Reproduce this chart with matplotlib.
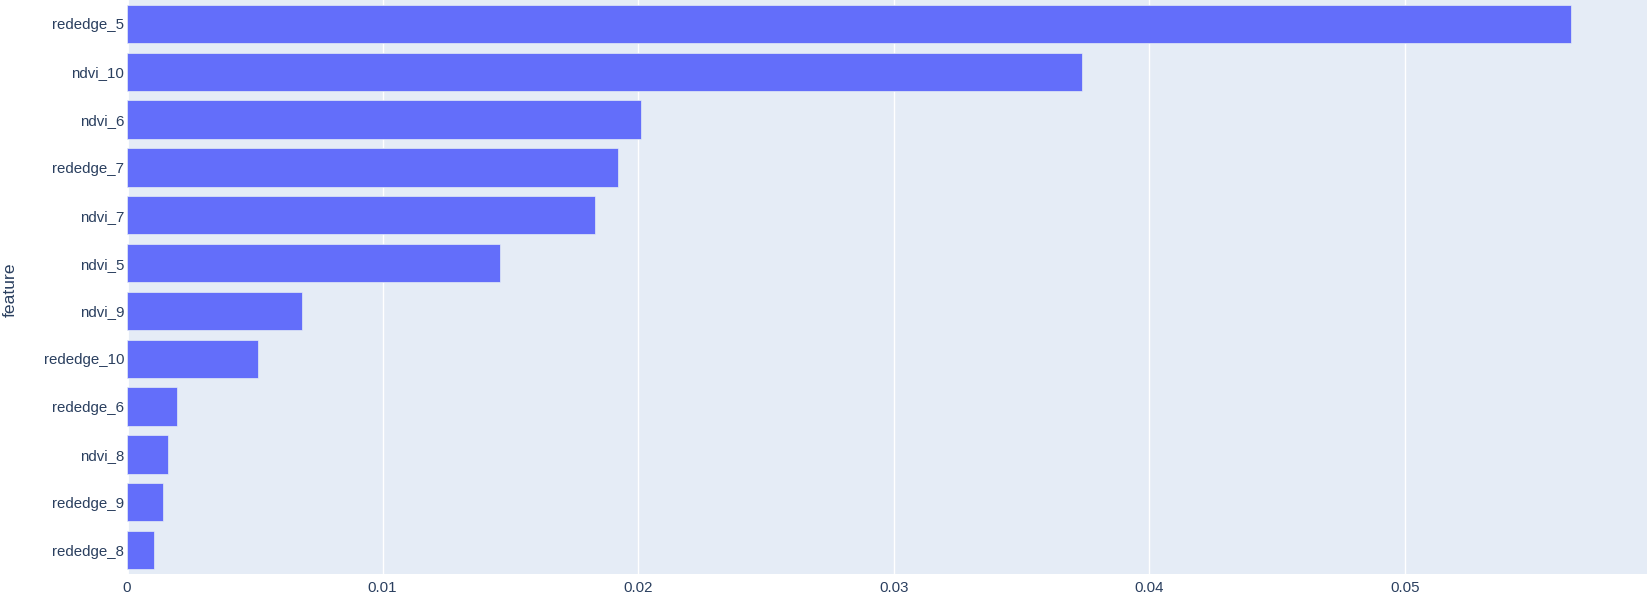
import matplotlib
matplotlib.use("Agg")
import matplotlib.pyplot as plt
import numpy as np

features = ["rededge_5", "ndvi_10", "ndvi_6", "rededge_7", "ndvi_7", "ndvi_5",
            "ndvi_9", "rededge_10", "rededge_6", "ndvi_8", "rededge_9", "rededge_8"]
importance = [0.05651, 0.03736, 0.02011, 0.01921, 0.01830, 0.01459,
              0.00683, 0.00511, 0.00196, 0.00159, 0.00142, 0.00106]
xticks = [0, 0.01, 0.02, 0.03, 0.04, 0.05]
xticklabels = ["0", "0.01", "0.02", "0.03", "0.04", "0.05"]

plt.rcParams['font.family'] = ['Liberation Sans', 'DejaVu Sans']
TXT = "#2a3f5f"
W, H = 1647, 602
fig = plt.figure(figsize=(W / 100, H / 100), dpi=100)
ax = fig.add_axes([127 / W, (H - 574) / H, (W - 127) / W, 574 / H])
ax.set_facecolor("#E5ECF6")
for s in ax.spines.values():
    s.set_visible(False)

y = np.arange(len(features))
ax.barh(y, importance, height=0.8, color="#636EFA", edgecolor="#E5ECF6",
        linewidth=0.5, zorder=3)
ax.set_ylim(len(features) - 0.5, -0.5)
ax.set_xlim(0, 0.05947)
ax.set_yticks(y)
ax.set_yticklabels(features, fontsize=10.8, color=TXT)
ax.set_xticks(xticks)
ax.set_xticklabels(xticklabels, fontsize=10.8, color=TXT)
ax.tick_params(axis="y", length=0, pad=2)
ax.tick_params(axis="x", length=0, pad=5)
ax.grid(axis="x", color="white", linewidth=1, zorder=1)
ax.set_axisbelow(True)
ax.axvline(0, color="white", linewidth=2, zorder=2)
fig.text(10 / W, 1 - 290 / H, "feature", rotation=90, ha="center", va="center",
         fontsize=12.6, color=TXT)
fig.savefig("out.png", dpi=100, facecolor="white")
